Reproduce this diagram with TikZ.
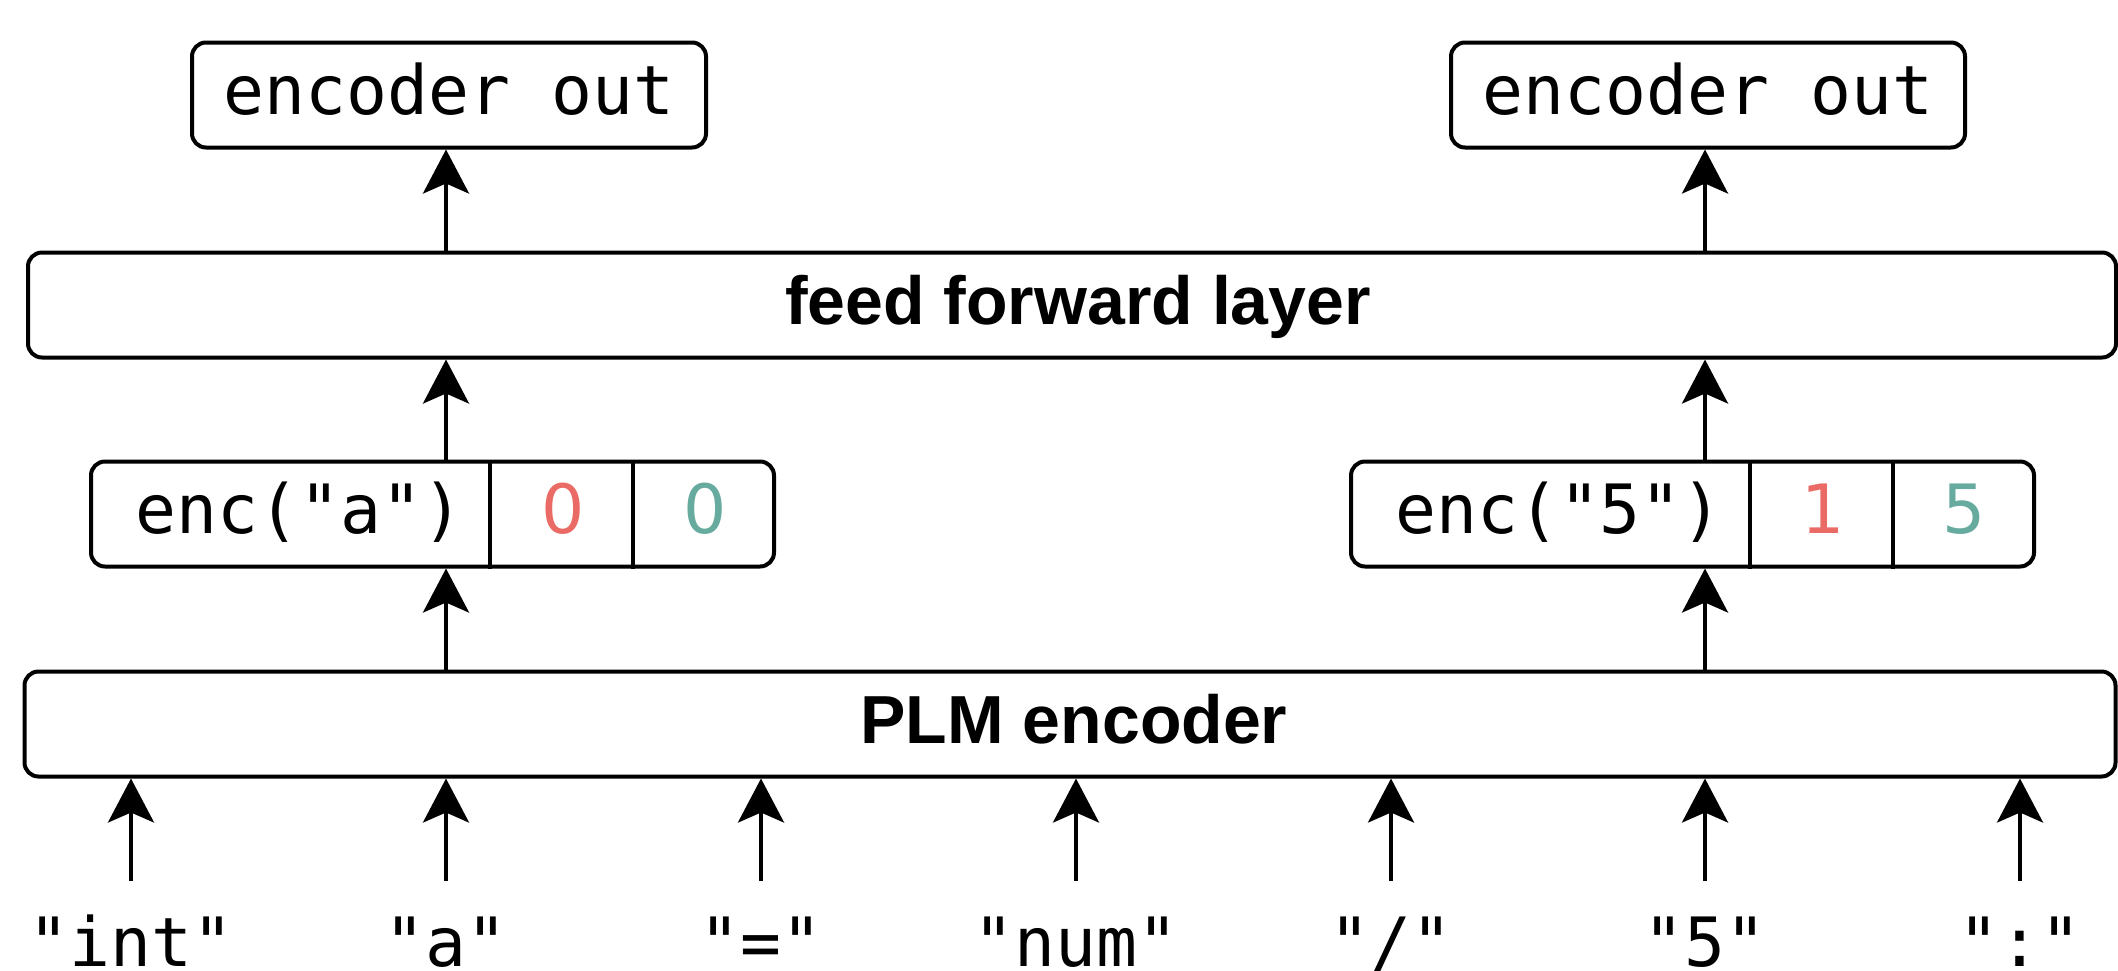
\documentclass[tikz,border=0pt]{standalone}
\usepackage{fontspec}
\usetikzlibrary{arrows.meta}
\newfontfamily\monof{DejaVu Sans Mono}
\newfontfamily\digitf{DejaVu Sans}
\newfontfamily\arialf{Liberation Sans}
\definecolor{cred}{HTML}{EA6B66}
\definecolor{cteal}{HTML}{67AB9F}
\tikzset{
  box/.style={draw, line width=2pt, rounded corners=7pt, minimum height=52.5pt, inner sep=0pt, text height=25pt, text depth=6pt},
  mono/.style={font=\monof\fontsize{34}{40}\selectfont},
  digit/.style={font=\digitf\fontsize{34}{40}\selectfont},
  boldsans/.style={font=\arialf\bfseries\fontsize{34}{40}\selectfont},
  txt/.style={inner sep=0pt, text height=25pt, text depth=6pt},
  arr/.style={line width=2pt, -{Stealth[length=22pt,width=23pt,inset=5pt]}},
  lbl/.style={mono, anchor=base, inner sep=0pt},
  divline/.style={line width=2pt},
}
\begin{document}
\begin{tikzpicture}[x=0.5pt,y=-0.5pt]
\useasboundingbox (0,0) rectangle (2118,970);
% columns
\coordinate (c1) at (446,0);
\coordinate (c2) at (1705,0);
% top boxes
\node[box, mono, minimum width=257pt] (out1) at (449,95) {encoder out};
\node[box, mono, minimum width=257pt] (out2) at (1708,95) {encoder out};
% feed forward
\node[box, minimum width=1044pt] (ff) at (1072,305) {};
\node[txt, boldsans] (fft) at (1078,305) {feed forward layer};
% enc boxes
\node[box, minimum width=341.5pt] (enc1) at (432.5,514) {};
\node[box, minimum width=341.5pt] (enc2) at (1692.5,514) {};
\coordinate (d1) at (490,0);
\coordinate (d2) at (633,0);
\coordinate (d3) at (1750,0);
\coordinate (d4) at (1893,0);
\draw[divline] (enc1.north -| d1) -- (enc1.south -| d1);
\draw[divline] (enc1.north -| d2) -- (enc1.south -| d2);
\draw[divline] (enc2.north -| d3) -- (enc2.south -| d3);
\draw[divline] (enc2.north -| d4) -- (enc2.south -| d4);
\node[txt, mono] (enc1t) at (299.5,514) {enc("a")};
\node[txt, digit, text=cred] (enc1a) at (563,514) {0};
\node[txt, digit, text=cteal] (enc1b) at (705,514) {0};
\node[txt, mono] (enc2t) at (1559,514) {enc("5")};
\node[txt, digit, text=cred] (enc2a) at (1823,514) {1};
\node[txt, digit, text=cteal] (enc2b) at (1964,514) {5};
% PLM
\node[box, minimum width=1045.5pt] (plm) at (1070,724) {};
\node[txt, boldsans] (plmt) at (1074,724) {PLM encoder};
% vertical arrows
\draw[arr] (ff.north -| c1) -- (out1.south -| c1);
\draw[arr] (ff.north -| c2) -- (out2.south -| c2);
\draw[arr] (enc1.north -| c1) -- (ff.south -| c1);
\draw[arr] (enc2.north -| c2) -- (ff.south -| c2);
\draw[arr] (plm.north -| c1) -- (enc1.south -| c1);
\draw[arr] (plm.north -| c2) -- (enc2.south -| c2);
% input tokens
\foreach \i/\x/\t in {1/131/{"int"}, 2/446/{"a"}, 3/761/{"="}, 4/1076/{"num"}, 5/1391/{"/"}, 6/1705/{"5"}, 7/2020/{":"}}{
  \node[lbl] (t\i) at (\x,966) {\t};
  \coordinate (s\i) at (\x,881);
  \draw[arr] (s\i) -- (s\i |- plm.south);
}
\end{tikzpicture}
\end{document}
